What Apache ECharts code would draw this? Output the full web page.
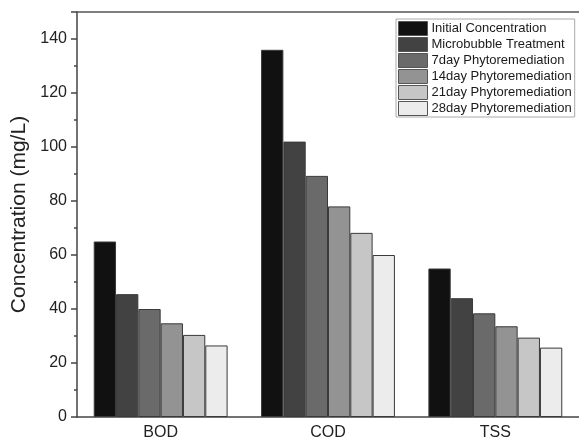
<!DOCTYPE html>
<html>
  <head>
    <meta charset="utf-8" />
    <script src="https://cdn.jsdelivr.net/npm/echarts@6.0.0/dist/echarts.min.js"></script>
    <style>
      html, body { margin: 0; padding: 0; background: #fff; }
    </style>
  </head>
  <body>
    <div id="main" style="width: 579px;height:445px;"></div>
    <script type="text/javascript">
      var myChart = echarts.init(document.getElementById('main'));

      // data
      const categories = ['BOD', 'COD', 'TSS'];
      const seriesNames = ['Initial Concentration', 'Microbubble Treatment', '7day Phytoremediation',
        '14day Phytoremediation', '21day Phytoremediation', '28day Phytoremediation'];
      const initialConc = [65, 136, 55];
      const microbubble = [45.5, 102, 44];
      const day7 = [40, 89.3, 38.4];
      const day14 = [34.7, 78, 33.6];
      const day21 = [30.4, 68.2, 29.4];
      const day28 = [26.5, 60, 25.7];
      const yTicks = [0, 20, 40, 60, 80, 100, 120, 140];

      const allValues = [initialConc, microbubble, day7, day14, day21, day28];
      const barColors = ['#111111', '#424242', '#6a6a6a', '#939393', '#c6c6c6', '#ececec'];
      const fontFam = 'Liberation Sans, Arial, sans-serif';

      let series = seriesNames.map(function (name, i) {
        return {
          name: name,
          type: 'bar',
          barGap: '0%',
          barCategoryGap: '20%',
          itemStyle: {
            color: barColors[i],
            borderColor: '#3a3a3a',
            borderWidth: 1
          },
          data: allValues[i]
        };
      });

      option = {
        animation: false,
        backgroundColor: '#fff',
        textStyle: { fontFamily: fontFam },
        legend: {
          orient: 'vertical',
          left: 396,
          top: 19,
          padding: [2, 3, 1, 2],
          itemGap: 1,
          itemWidth: 29,
          itemHeight: 14,
          itemStyle: { borderColor: '#555', borderWidth: 1 },
          icon: 'rect',
          borderColor: '#aaa',
          borderWidth: 1,
          textStyle: { fontSize: 13, lineHeight: 14, color: '#1a1a1a', fontFamily: fontFam, padding: [0, 0, 0, -1] },
          data: seriesNames
        },
        grid: {
          left: 77,
          right: 0,
          top: 12,
          bottom: 28
        },
        xAxis: [
          { type: 'category',
            data: categories,
            axisLine: { lineStyle: { color: '#444', width: 1.5 } },
            axisTick: { alignWithLabel: true, length: 6, lineStyle: { color: '#444', width: 1.5 } },
            axisLabel: { fontSize: 16, color: '#222', margin: 8, fontFamily: fontFam }
          },
          { type: 'category',
            position: 'top',
            data: categories,
            axisLine: { lineStyle: { color: '#555', width: 1.5 } },
            axisTick: { show: false },
            axisLabel: { show: false }
          }
        ],
        yAxis: {
          type: 'value',
          min: 0,
          max: 150,
          interval: 20,
          name: 'Concentration (mg/L)',
          nameLocation: 'middle',
          nameGap: 42,
          nameTextStyle: { fontSize: 21, color: '#222', fontFamily: fontFam },
          axisLine: { show: true, lineStyle: { color: '#444', width: 1.5 } },
          axisTick: { show: true, length: 6, lineStyle: { color: '#444', width: 1.5 } },
          minorTick: { show: true, splitNumber: 2, length: 3, lineStyle: { color: '#444', width: 1.5 } },
          splitLine: { show: false },
          axisLabel: {
            fontSize: 16,
            color: '#222',
            margin: 10,
            fontFamily: fontFam,
            showMaxLabel: false,
            formatter: function (v) {
              return yTicks.indexOf(v) >= 0 ? String(v) : '';
            }
          }
        },
        series: series
      };

      myChart.setOption(option);
    </script>
  </body>
</html>
